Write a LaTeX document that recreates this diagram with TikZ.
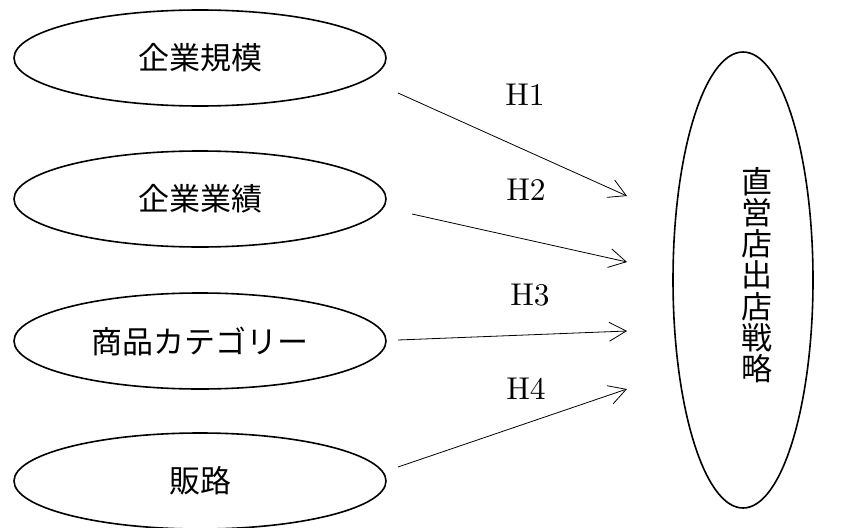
\documentclass[tikz,border=0pt]{standalone}
\usepackage{fontspec}
\newfontfamily\cjk{Noto Sans CJK JP}
\usetikzlibrary{shapes.geometric,arrows.meta}
\newcommand{\hlab}[1]{\scalebox{3.15}{\fontsize{10}{12}\selectfont #1}}
\begin{document}
\begin{tikzpicture}[x=1pt,y=-1pt,
  factor/.style={draw,ellipse,line width=1.6pt,inner sep=0pt,minimum width=372pt,minimum height=96pt,font=\cjk\fontsize{31}{33}\selectfont},
  hyp/.style={draw,line width=0.8pt,-{Straight Barb[length=17pt,width=19pt,line width=0.8pt]}},
  hlabel/.style={inner sep=0pt}]
\useasboundingbox (0,0) rectangle (842,527);
\node[factor] (e1) at (200,58) {企業規模};
\node[factor] (e2) at (200,199) {企業業績};
\node[factor] (e3) at (200,341) {商品カテゴリー};
\node[factor] (e4) at (200,481) {販路};
\node[draw,ellipse,line width=1.6pt,inner sep=0pt,minimum width=140pt,minimum height=456pt] (s) at (743,280) {};
\node[font=\cjk\fontsize{31}{31.3}\selectfont,align=center] (st) at (757,275) {直\\営\\店\\出\\店\\戦\\略};
\coordinate (a1s) at (398,93);  \coordinate (a1e) at (627,196);
\coordinate (a2s) at (412,214); \coordinate (a2e) at (627,262);
\coordinate (a3s) at (398,340); \coordinate (a3e) at (627,331);
\coordinate (a4s) at (398,467); \coordinate (a4e) at (627,389);
\draw[hyp] (a1s) -- (a1e);
\draw[hyp] (a2s) -- (a2e);
\draw[hyp] (a3s) -- (a3e);
\draw[hyp] (a4s) -- (a4e);
\node[hlabel] (h1) at (525,95) {\hlab{H1}};
\node[hlabel] (h2) at (526,190) {\hlab{H2}};
\node[hlabel] (h3) at (530,295) {\hlab{H3}};
\node[hlabel] (h4) at (526,389) {\hlab{H4}};
\end{tikzpicture}
\end{document}
